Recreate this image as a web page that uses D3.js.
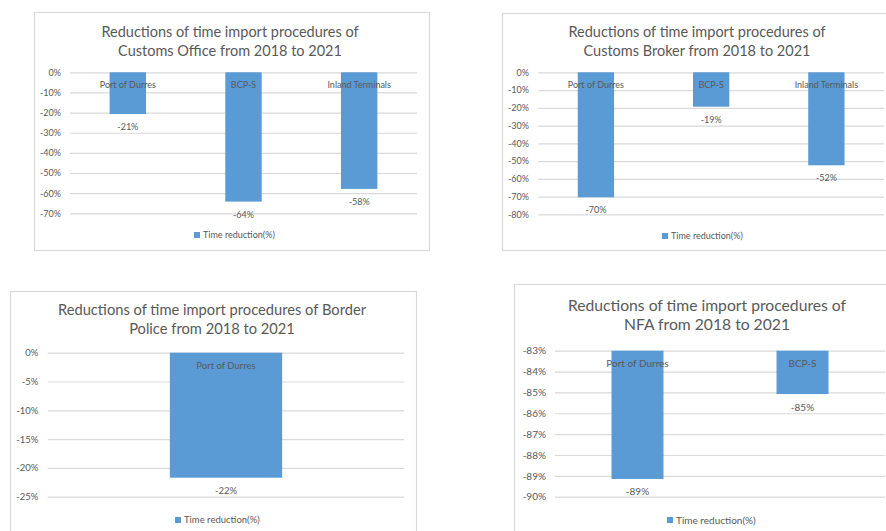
<!DOCTYPE html>
<html>
<head>
<meta charset="utf-8">
<script src="https://cdn.jsdelivr.net/npm/d3@7"></script>
<style>
  html, body { margin: 0; padding: 0; background: #ffffff; }
  svg { display: block; font-family: Lato, "Open Sans", sans-serif; }
</style>
</head>
<body>
<svg id="chart" width="886" height="531"></svg>
<script>
// Time reductions of import procedures, 2018 -> 2021
const seriesName = "Time reduction(%)";

const officeCategories = ["Port of Durres", "BCP-S", "Inland Terminals"];
const officeValues = [-0.207, -0.642, -0.579];
const officeTicks = [0, -0.1, -0.2, -0.3, -0.4, -0.5, -0.6, -0.7];

const brokerCategories = ["Port of Durres", "BCP-S", "Inland Terminals"];
const brokerValues = [-0.704, -0.194, -0.524];
const brokerTicks = [0, -0.1, -0.2, -0.3, -0.4, -0.5, -0.6, -0.7, -0.8];

const policeCategories = ["Port of Durres"];
const policeValues = [-0.217];
const policeTicks = [0, -0.05, -0.1, -0.15, -0.2, -0.25];

const nfaCategories = ["Port of Durres", "BCP-S"];
const nfaValues = [-0.8915, -0.8508];
const nfaTicks = [-0.83, -0.84, -0.85, -0.86, -0.87, -0.88, -0.89, -0.9];

const titles = [
  ["Reductions of time import procedures of", "Customs Office from 2018 to 2021"],
  ["Reductions of time import procedures of", "Customs Broker from 2018 to 2021"],
  ["Reductions of time import procedures of Border", "Police from 2018 to 2021"],
  ["Reductions of time import procedures of", "NFA from 2018 to 2021"]
];

const BAR = "#5b9bd5";
const TEXT = "#595959";
const GRID = "#d9d9d9";

const pct = d3.formatLocale({
  decimal: ".", thousands: ",", grouping: [3], currency: ["$", ""], minus: "-"
}).format(".0%");

const svg = d3.select("#chart");

function drawPanel(o) {
  const g = svg.append("g");

  // frame
  g.append("rect")
    .attr("x", o.frame[0] + 0.5).attr("y", o.frame[1] + 0.5)
    .attr("width", o.frame[2]).attr("height", o.frame[3])
    .attr("fill", "#fff").attr("stroke", GRID).attr("stroke-width", 1.2);

  // title
  const t = g.append("text")
    .attr("x", o.titleX).attr("text-anchor", "middle")
    .attr("fill", TEXT).attr("font-size", o.titleSize);
  o.title.forEach((line, i) => {
    t.append("tspan").attr("x", o.titleX).attr("y", o.titleY[i]).text(line);
  });

  const ticks = o.ticks;
  const lo = d3.min(ticks), hi = d3.max(ticks);
  const y = d3.scaleLinear().domain([lo, hi]).range([o.yBottom, o.yTop]);
  const x = d3.scaleBand().domain(o.categories).range([o.x0, o.x1])
    .paddingInner(0.685).paddingOuter(0.3425);

  // gridlines + tick labels
  const axis = d3.axisLeft(y).tickValues(ticks).tickFormat(pct)
    .tickSize(-(o.x1 - o.x0)).tickPadding(o.x0 - o.labelRight);
  const ag = g.append("g").attr("transform", `translate(${o.x0},0)`).call(axis);
  ag.select(".domain").remove();
  ag.selectAll(".tick line").attr("stroke", GRID).attr("stroke-width", 1.2);
  ag.selectAll(".tick text").attr("fill", TEXT)
    .attr("font-size", o.tickSize).attr("font-family", "Lato, sans-serif");

  const rows = o.categories.map((c, i) => ({ c, v: o.values[i] }));

  // bars hang from the top of the axis
  g.selectAll("rect.bar").data(rows).join("rect")
    .attr("class", "bar")
    .attr("x", d => x(d.c)).attr("width", x.bandwidth())
    .attr("y", y(hi)).attr("height", d => y(d.v) - y(hi))
    .attr("fill", BAR);

  // category names just under the baseline
  g.selectAll("text.cat").data(rows).join("text")
    .attr("class", "cat")
    .attr("x", d => x(d.c) + x.bandwidth() / 2)
    .attr("y", y(hi) + 13).attr("dy", "0.35em")
    .attr("text-anchor", "middle").attr("fill", TEXT)
    .attr("font-size", o.catSize).text(d => d.c);

  // value labels below bar ends
  g.selectAll("text.val").data(rows).join("text")
    .attr("class", "val")
    .attr("x", d => x(d.c) + x.bandwidth() / 2)
    .attr("y", d => y(d.v) + 13).attr("dy", "0.35em")
    .attr("text-anchor", "middle").attr("fill", TEXT)
    .attr("font-size", o.catSize).text(d => pct(d.v));

  // legend
  const lg = g.append("g").attr("transform", `translate(${o.legend[0]},${o.legend[1]})`);
  lg.append("rect").attr("x", 0).attr("y", -3).attr("width", 6).attr("height", 6).attr("fill", BAR);
  lg.append("text").attr("x", 9).attr("y", 0).attr("dy", "0.35em")
    .attr("fill", TEXT).attr("font-size", o.legendSize).text(seriesName);
}

drawPanel({
  frame: [34, 12, 395, 238], title: titles[0], titleX: 230, titleY: [37, 56], titleSize: 14.5,
  categories: officeCategories, values: officeValues, ticks: officeTicks,
  x0: 70, x1: 417, yTop: 72.3, yBottom: 213.3, labelRight: 61,
  tickSize: 9, catSize: 9, legend: [194, 235], legendSize: 9
});

drawPanel({
  frame: [502, 13, 400, 237], title: titles[1], titleX: 697, titleY: [37, 56], titleSize: 14.5,
  categories: brokerCategories, values: brokerValues, ticks: brokerTicks,
  x0: 538.3, x1: 884, yTop: 72.3, yBottom: 214.3, labelRight: 529,
  tickSize: 9, catSize: 9, legend: [662, 236], legendSize: 9
});

drawPanel({
  frame: [10, 291, 406, 260], title: titles[2], titleX: 212, titleY: [315, 334], titleSize: 14.7,
  categories: policeCategories, values: policeValues, ticks: policeTicks,
  x0: 47.7, x1: 404.3, yTop: 352.7, yBottom: 496.7, labelRight: 38.3,
  tickSize: 9.5, catSize: 9.5, legend: [175, 520], legendSize: 9.5
});

drawPanel({
  frame: [514, 284, 400, 260], title: titles[3], titleX: 707, titleY: [311, 330], titleSize: 15.7,
  categories: nfaCategories, values: nfaValues, ticks: nfaTicks,
  x0: 555, x1: 885, yTop: 350.7, yBottom: 496.7, labelRight: 546,
  tickSize: 10, catSize: 10, legend: [667, 520], legendSize: 10
});
</script>
</body>
</html>
